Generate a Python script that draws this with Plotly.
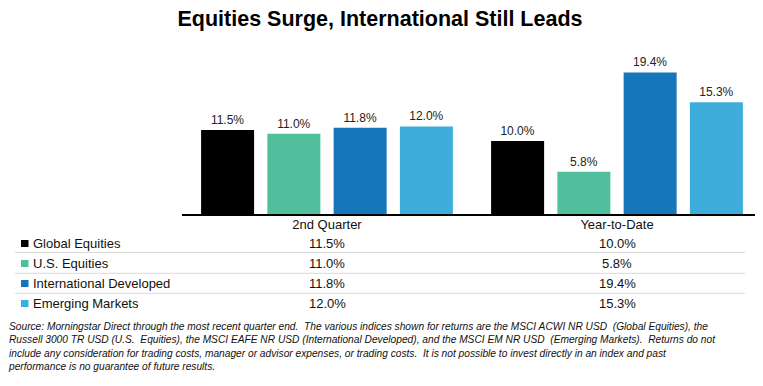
import plotly.graph_objects as go

categories = ["2nd Quarter", "Year-to-Date"]
series_names = ["Global Equities", "U.S. Equities", "International Developed", "Emerging Markets"]
global_eq = [11.5, 10.0]
us_eq = [11.0, 5.8]
intl_dev = [11.8, 19.4]
emerging = [12.0, 15.3]
series_values = [global_eq, us_eq, intl_dev, emerging]
colors = ["#000000", "#52BF9C", "#1576BA", "#3FADDC"]

title = "Equities Surge, International Still Leads"
footnote = ("Source: Morningstar Direct through the most recent quarter end.  The various indices shown for returns are the MSCI ACWI NR USD  (Global Equities), the<br>"
            "Russell 3000 TR USD (U.S.  Equities), the MSCI EAFE NR USD (International Developed), and the MSCI EM NR USD  (Emerging Markets).  Returns do not<br>"
            "include any consideration for trading costs, manager or advisor expenses, or trading costs.  It is not possible to invest directly in an index and past<br>"
            "performance is no guarantee of future results.")

# The page body has an 8px margin; the figure is sized so that it fills the window.
OFF = 8
W, H = 763 - OFF, 386 - OFF
ML, MR, MT, MB = 182 - OFF, 1, 68 - OFF, 172
PW, PH = W - ML - MR, H - MT - MB

def px_x(px):
    return (px - OFF - ML) / PW

def px_y(py):
    return (H - MB - (py - OFF)) / PH

FONT = "Arial, Liberation Sans, sans-serif"

fig = go.Figure()
for name, vals, col in zip(series_names, series_values, colors):
    fig.add_trace(go.Bar(
        x=categories, y=vals, name=name, marker=dict(color=col, line=dict(width=0)),
        text=[f"{v:.1f}%" for v in vals], textposition="outside",
        textfont=dict(family=FONT, size=12, color="#222222"), cliponaxis=False,
    ))

annotations = []
shapes = []
row_centers = [243.5, 263.5, 283.5, 303.5]
for i, (name, vals, col) in enumerate(zip(series_names, series_values, colors)):
    yc = row_centers[i]
    annotations.append(dict(xref="paper", yref="paper", x=px_x(31), y=px_y(yc),
                            xanchor="left", yanchor="middle", text=name, showarrow=False,
                            font=dict(family=FONT, size=13, color="#111111")))
    shapes.append(dict(type="rect", xref="paper", yref="paper",
                       x0=px_x(21), x1=px_x(28.5), y0=px_y(yc + 3.5), y1=px_y(yc - 3.5),
                       fillcolor=col, line=dict(width=0)))
    for c, v in zip(categories, vals):
        annotations.append(dict(xref="x", yref="paper", x=c, y=px_y(yc),
                                xanchor="center", yanchor="middle", text=f"{v:.1f}%",
                                showarrow=False, font=dict(family=FONT, size=13, color="#111111")))

for sy in [252.5, 273.3, 293.3]:
    shapes.append(dict(type="line", xref="paper", yref="paper", x0=px_x(15), x1=px_x(745),
                       y0=px_y(sy), y1=px_y(sy), line=dict(color="#D9D9D9", width=1)))

annotations.append(dict(xref="paper", yref="paper", x=px_x(6), y=px_y(319),
                        xanchor="left", yanchor="top", align="left", text=footnote, showarrow=False,
                        font=dict(family=FONT, size=10.2, color="#111111", style="italic")))

fig.update_layout(
    width=W, height=H, margin=dict(l=ML, r=MR, t=MT, b=MB),
    paper_bgcolor="white", plot_bgcolor="white",
    title=dict(text=f"<b>{title}</b>", x=(380 - OFF) / W, xanchor="center",
               y=1 - (18.5 - OFF) / H, yanchor="middle", yref="container",
               font=dict(family=FONT, size=21.5, color="#000000")),
    barmode="group", bargap=0.086, bargroupgap=0.2,
    showlegend=False,
    xaxis=dict(showline=True, linecolor="#000000", linewidth=2, ticks="", showgrid=False,
               ticklabelstandoff=-3,
               tickfont=dict(family=FONT, size=13, color="#111111"), fixedrange=True),
    yaxis=dict(range=[0, 20], visible=False, showgrid=False, zeroline=False, fixedrange=True),
    annotations=annotations, shapes=shapes,
)

fig.write_html("out.html")
